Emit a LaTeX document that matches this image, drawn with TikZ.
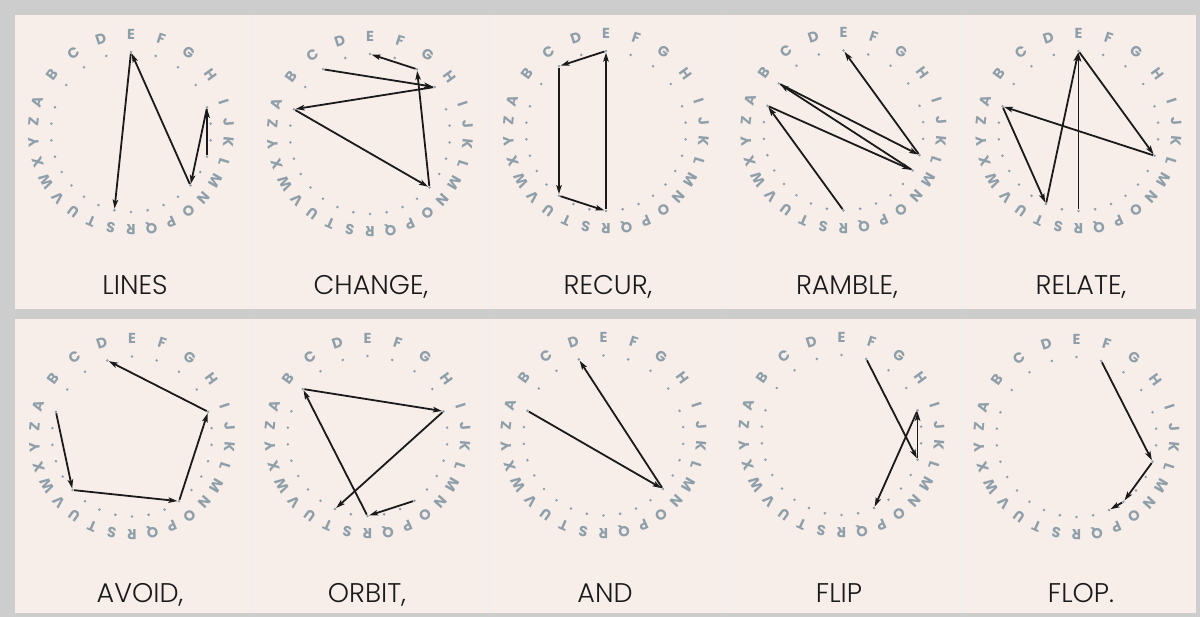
\documentclass[tikz,border=0pt]{standalone}
\usepackage{fontspec}
\setmainfont{Poppins}
\newfontfamily\titlefont{Poppins}[UprightFont={* Light}]
\usepackage{tikz}
\usetikzlibrary{arrows.meta}
\definecolor{frameGray}{HTML}{CDCDCD}
\definecolor{seamGray}{HTML}{EFEFEF}
\definecolor{paperPink}{HTML}{F7EEEA}
\definecolor{wheelGray}{HTML}{8E9FA9}
\definecolor{inkBlack}{HTML}{1A1A1A}

% one alphabet wheel: name, centre x, centre y
\newcommand{\letterwheel}[3]{%
  \begin{scope}[shift={(#2,#3)}]
    \foreach \l [count=\i from 0] in {A,B,...,Z} {
      \pgfmathsetmacro{\ang}{\i<9 ? 162-18*\i : 114-12*\i}
      \node[wheeldot] (#1-\l) at (\ang:80pt) {};
      \node[wheelletter, rotate=\ang-90] (#1-\l-txt) at (\ang:98pt) {\l};
    }
  \end{scope}}

\begin{document}
\begin{tikzpicture}[
  x=1pt, y=1pt,
  wheeldot/.style={circle, fill=wheelGray, inner sep=0pt, minimum size=2.8pt},
  wheelletter/.style={inner sep=0pt, text=wheelGray,
                      font=\fontsize{14.5}{14.5}\selectfont\bfseries},
  title/.style={anchor=base, inner sep=0pt, text=inkBlack,
                font=\titlefont\fontsize{27}{27}\selectfont},
  arr/.style={-{Stealth[length=9pt, width=5.5pt, inset=2pt]},
              line width=1.8pt, inkBlack}
]
\fill[frameGray] (0,0) rectangle (1200,-617);
\fill[seamGray] (15,-15) rectangle (1196,-309);
\fill[seamGray] (15,-319) rectangle (1196,-613);
\foreach \x/\w in {15/236, 253/235, 490/235, 727/235, 964/232} {
  \fill[paperPink] (\x,-15) rectangle ++(\w,-294);
  \fill[paperPink] (\x,-319) rectangle ++(\w,-294);
}

\letterwheel{lines}{131}{-132}
\letterwheel{change}{370}{-134}
\letterwheel{recur}{606}{-131}
\letterwheel{ramble}{843.5}{-130.5}
\letterwheel{relate}{1078.5}{-131}
\letterwheel{avoid}{132}{-436.5}
\letterwheel{orbit}{367.5}{-436}
\letterwheel{and}{603.5}{-435.5}
\letterwheel{flip}{841.5}{-435}
\letterwheel{flop}{1076.5}{-437}

\foreach \a/\b in {L/I, I/N, N/E, E/S} \draw[arr] (lines-\a) -- (lines-\b);
\foreach \a/\b in {C/H, H/A, A/N, N/G, G/E} \draw[arr] (change-\a) -- (change-\b);
\foreach \a/\b in {R/E, E/C, C/U, U/R} \draw[arr] (recur-\a) -- (recur-\b);
\foreach \a/\b in {R/A, A/M, M/B, B/L, L/E} \draw[arr] (ramble-\a) -- (ramble-\b);
\foreach \a/\b in {R/E, E/L, L/A, A/T, T/E} \draw[arr] (relate-\a) -- (relate-\b);
\foreach \a/\b in {A/V, V/O, O/I, I/D} \draw[arr] (avoid-\a) -- (avoid-\b);
\foreach \a/\b in {O/R, R/B, B/I, I/T} \draw[arr] (orbit-\a) -- (orbit-\b);
\foreach \a/\b in {A/N, N/D} \draw[arr] (and-\a) -- (and-\b);
\foreach \a/\b in {F/L, L/I, I/P} \draw[arr] (flip-\a) -- (flip-\b);
\foreach \a/\b in {F/L, L/O, O/P} \draw[arr] (flop-\a) -- (flop-\b);

\node[title] (lines-title) at (135,-295) {LINES};
\node[title] (change-title) at (371,-295) {CHANGE,};
\node[title] (recur-title) at (608,-295) {RECUR,};
\node[title] (ramble-title) at (847,-295) {RAMBLE,};
\node[title] (relate-title) at (1081,-295) {RELATE,};
\node[title] (avoid-title) at (140,-602) {AVOID,};
\node[title] (orbit-title) at (367,-602) {ORBIT,};
\node[title] (and-title) at (605,-602) {AND};
\node[title] (flip-title) at (839,-602) {FLIP};
\node[title] (flop-title) at (1081,-602) {FLOP.};
\end{tikzpicture}
\end{document}
